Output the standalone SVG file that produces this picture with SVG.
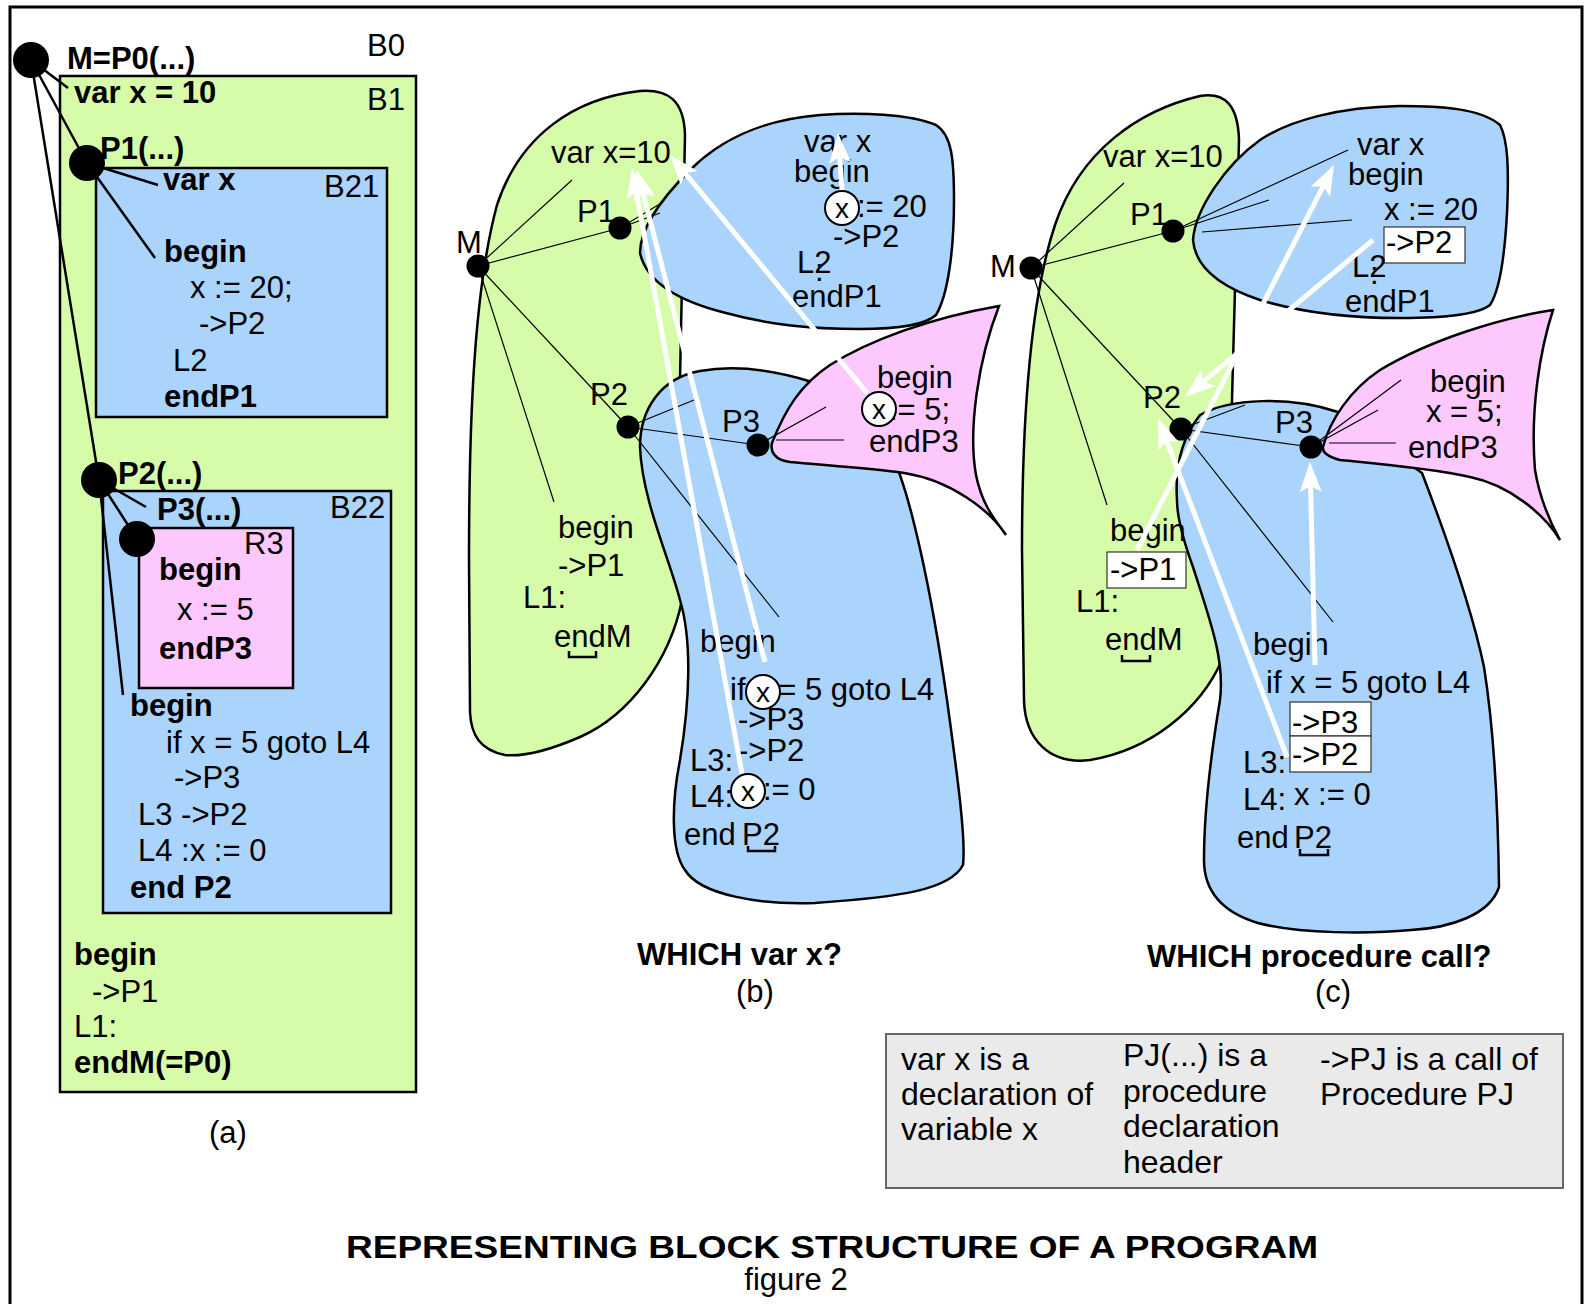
<svg xmlns="http://www.w3.org/2000/svg" width="1591" height="1304" viewBox="0 0 1591 1304">
<defs>
<style>
text{font-family:"Liberation Sans",Arial,sans-serif;font-size:31px;fill:#000}
.b{font-weight:bold}
.g{fill:#d6fcaa;stroke:#000;stroke-width:2.5}
.bl{fill:#aad4fc;stroke:#000;stroke-width:2.5}
.pk{fill:#fdc8fd;stroke:#000;stroke-width:2.5}
.thk{stroke:#000;stroke-width:2.5;fill:none}
.thn{stroke:#000;stroke-width:1.2;fill:none}
.wa{stroke:#fff;stroke-width:5;fill:none;marker-end:url(#wah)}
.box{fill:#fff;stroke:#333;stroke-width:1.2}
.cx{fill:#fff;stroke:#000;stroke-width:2}
.cxt{font-size:28px;text-anchor:middle}
.lg{font-size:32px}
</style>
<marker id="wah" markerUnits="userSpaceOnUse" markerWidth="30" markerHeight="22" refX="10" refY="11" orient="auto" overflow="visible">
<path d="M0,0 L30,11 L0,22 L6,11 Z" fill="#fff"/>
</marker>
</defs>
<rect width="1591" height="1304" fill="#fff"/>
<rect x="10" y="7" width="1572" height="1330" fill="none" stroke="#000" stroke-width="3"/>

<!-- Panel (a) -->
<g id="a-B1">
<rect class="g" x="60" y="76" width="356" height="1016"/>
<text x="367" y="56">B0</text>
<text x="367" y="110">B1</text>
<text class="b" x="67" y="69">M=P0(...)</text>
<text class="b" x="74" y="103">var x = 10</text>
<text class="b" x="74" y="965">begin</text>
<text x="92" y="1002">-&gt;P1</text>
<text x="74" y="1037">L1:</text>
<text class="b" x="74" y="1073">endM(=P0)</text>
</g>
<g id="a-B21">
<rect class="bl" x="96" y="168" width="291" height="249"/>
<text class="b" x="100" y="159">P1(...)</text>
<text class="b" x="163" y="190">var x</text>
<text x="324" y="197">B21</text>
<text class="b" x="164" y="262">begin</text>
<text x="190" y="298">x := 20;</text>
<text x="199" y="334">-&gt;P2</text>
<text x="173" y="371">L2</text>
<text class="b" x="164" y="407">endP1</text>
</g>
<g id="a-B22">
<rect class="bl" x="103" y="491" width="288" height="422"/>
<text class="b" x="118" y="484">P2(...)</text>
<text x="330" y="518">B22</text>
<text class="b" x="157" y="520">P3(...)</text>
<text class="b" x="130" y="716">begin</text>
<text x="166" y="753">if x = 5 goto L4</text>
<text x="174" y="788">-&gt;P3</text>
<text x="138" y="825">L3 -&gt;P2</text>
<text x="138" y="861">L4 :x := 0</text>
<text class="b" x="130" y="898">end P2</text>
</g>
<g id="a-R3">
<rect class="pk" x="139" y="528" width="154" height="160"/>
<text x="244" y="554">R3</text>
<text class="b" x="159" y="580">begin</text>
<text x="177" y="620">x := 5</text>
<text class="b" x="159" y="659">endP3</text>
</g>
<g id="a-connectors">
<line class="thk" x1="31" y1="60" x2="68" y2="88"/>
<line class="thk" x1="31" y1="60" x2="87" y2="163"/>
<line class="thk" x1="31" y1="60" x2="99" y2="480"/>
<line class="thk" x1="87" y1="163" x2="158" y2="185"/>
<line class="thk" x1="87" y1="163" x2="155" y2="258"/>
<line class="thk" x1="99" y1="480" x2="146" y2="507"/>
<line class="thk" x1="99" y1="480" x2="137" y2="539"/>
<line class="thk" x1="99" y1="480" x2="123" y2="695"/>
</g>
<g id="a-dots">
<circle cx="31" cy="60" r="18"/>
<circle cx="87" cy="163" r="18"/>
<circle cx="99" cy="480" r="18"/>
<circle cx="137" cy="539" r="18"/>
</g>
<text x="209" y="1143">(a)</text>

<!-- Panel (b) -->
<g id="b-M">
<path class="g" d="M470,712 L469,560 C469,420 474,290 497,205 C520,135 575,98 640,91 C668,89 684,100 685,135 L680,380 L682,600 C670,660 630,715 580,737 C550,750 525,757 505,755 C480,750 471,735 470,712 Z"/>
</g>
<g id="b-P1">
<path class="bl" d="M640,253 C645,275 665,298 726,313 C770,325 810,329 860,329 C900,329 925,325 936,315 C948,295 954,250 954,200 C954,160 952,135 936,125 C910,114 860,112 820,115 C760,120 720,140 690,170 C660,200 640,230 640,253 Z"/>
</g>
<g id="b-P2">
<path class="bl" d="M640,447 C640,410 660,378 700,371 C740,364 780,372 812,382 L897,467 C910,500 930,580 947,700 C958,780 966,840 963,865 C950,890 900,897 815,903 C760,905 700,895 685,870 C670,850 672,800 680,760 C690,700 692,640 680,600 C670,560 642,500 640,447 Z"/>
</g>
<g id="b-P3">
<path class="pk" d="M772,443 C785,410 800,385 830,365 C870,340 930,318 999,306 C978,360 968,430 976,475 C982,505 995,520 1006,535 C990,510 950,480 904,473 C870,468 820,465 790,462 C775,460 770,452 772,443 Z"/>
</g>
<g id="b-connectors">
<line class="thn" x1="478" y1="266" x2="572" y2="180"/>
<line class="thn" x1="478" y1="266" x2="620" y2="228"/>
<line class="thn" x1="478" y1="266" x2="628" y2="427"/>
<line class="thn" x1="478" y1="266" x2="554" y2="502"/>
<line class="thn" x1="620" y1="228" x2="663" y2="202"/>
<line class="thn" x1="620" y1="228" x2="660" y2="213"/>
<line class="thn" x1="628" y1="427" x2="694" y2="400"/>
<line class="thn" x1="628" y1="427" x2="758" y2="445"/>
<line class="thn" x1="628" y1="427" x2="779" y2="617"/>
<line class="thn" x1="758" y1="445" x2="826" y2="407"/>
<line class="thn" x1="776" y1="440" x2="844" y2="440"/>
</g>
<g id="b-dots">
<circle cx="478" cy="266" r="11.5"/>
<circle cx="620" cy="228" r="11.5"/>
<circle cx="628" cy="427" r="11.5"/>
<circle cx="758" cy="445" r="11.5"/>
</g>
<g id="b-text">
<text x="456" y="253">M</text>
<text x="551" y="163">var x=10</text>
<text x="577" y="222">P1</text>
<text x="590" y="405">P2</text>
<text x="722" y="432">P3</text>
<text x="558" y="538">begin</text>
<text x="558" y="576">-&gt;P1</text>
<text x="523" y="608">L1:</text>
<text x="554" y="647">endM</text>
<path class="thk" d="M569,651 V657 H596 V651" stroke-width="2"/>
<text x="804" y="152">var x</text>
<text x="794" y="182">begin</text>
<text x="857" y="217">:= 20</text>
<text x="833" y="247">-&gt;P2</text>
<text x="797" y="273">L2</text>
<text x="815" y="281">:</text>
<text x="792" y="307">endP1</text>
<text x="877" y="388">begin</text>
<text x="889" y="420">:= 5;</text>
<text x="869" y="452">endP3</text>
<text x="700" y="652">begin</text>
<text x="730" y="700">if x = 5 goto L4</text>
<text x="738" y="730">-&gt;P3</text>
<text x="690" y="771">L3:</text>
<text x="738" y="761">-&gt;P2</text>
<text x="690" y="807">L4:</text>
<text x="763" y="800">:= 0</text>
<text x="684" y="845">end</text>
<text x="742" y="845">P2</text>
<path class="thk" d="M748,846 V851 H775 V846" stroke-width="2"/>
</g>
<g id="b-arrows">
<line class="wa" x1="742" y1="774" x2="635.6" y2="187.7"/>
<line class="wa" x1="765" y1="662" x2="642" y2="189.4"/>
<line class="wa" x1="867" y1="393" x2="682.8" y2="170.4"/>
<line class="wa" x1="842" y1="190" x2="839.4" y2="153"/>
</g>
<g id="b-circles">
<circle class="cx" cx="842" cy="208" r="17"/><text class="cxt" x="842" y="218">x</text>
<circle class="cx" cx="879" cy="409" r="17"/><text class="cxt" x="879" y="419">x</text>
<circle class="cx" cx="763" cy="692" r="17"/><text class="cxt" x="763" y="702">x</text>
<circle class="cx" cx="748" cy="791" r="17"/><text class="cxt" x="748" y="801">x</text>
</g>
<text class="b" x="637" y="965">WHICH var x?</text>
<text x="736" y="1002">(b)</text>

<!-- Panel (c) -->
<g id="c-M">
<path class="g" d="M1024,700 L1022,550 C1022,420 1030,300 1055,225 C1080,150 1140,110 1200,96 C1225,92 1238,105 1239,140 L1232,400 L1222,660 C1200,710 1150,750 1090,760 C1050,765 1025,740 1024,700 Z"/>
</g>
<g id="c-P1">
<path class="bl" d="M1193,240 C1195,265 1215,285 1260,300 C1300,312 1350,318 1400,318 C1450,318 1480,313 1490,305 C1500,290 1505,250 1507,213 C1509,170 1508,140 1500,125 C1480,108 1440,106 1400,106 C1340,107 1290,120 1260,140 C1225,165 1195,210 1193,240 Z"/>
</g>
<g id="c-P2">
<path class="bl" d="M1177,500 C1175,470 1180,440 1200,415 C1230,398 1290,396 1338,412 L1422,473 C1440,520 1470,600 1484,667 C1494,730 1498,800 1499,887 C1490,915 1450,928 1411,930 C1370,934 1300,934 1258,923 C1215,910 1204,885 1204,860 C1204,820 1210,760 1220,700 C1225,660 1210,620 1193,567 C1185,545 1177,520 1177,500 Z"/>
</g>
<g id="c-P3">
<path class="pk" d="M1323,447 C1330,420 1350,390 1380,370 C1430,340 1500,318 1553,310 C1540,350 1530,410 1535,470 C1540,500 1550,522 1560,540 C1545,515 1510,485 1470,477 C1430,468 1370,463 1340,460 C1328,457 1322,452 1323,447 Z"/>
</g>
<g id="c-connectors">
<line class="thn" x1="1031" y1="268" x2="1124" y2="183"/>
<line class="thn" x1="1031" y1="268" x2="1173" y2="231"/>
<line class="thn" x1="1031" y1="268" x2="1181" y2="429"/>
<line class="thn" x1="1031" y1="268" x2="1107" y2="505"/>
<line class="thn" x1="1173" y1="231" x2="1348" y2="150"/>
<line class="thn" x1="1173" y1="231" x2="1269" y2="200"/>
<line class="thn" x1="1202" y1="232" x2="1352" y2="220"/>
<line class="thn" x1="1181" y1="429" x2="1245" y2="405"/>
<line class="thn" x1="1181" y1="429" x2="1311" y2="447"/>
<line class="thn" x1="1181" y1="429" x2="1333" y2="622"/>
<line class="thn" x1="1311" y1="447" x2="1401" y2="380"/>
<line class="thn" x1="1311" y1="447" x2="1378" y2="410"/>
<line class="thn" x1="1329" y1="443" x2="1396" y2="443"/>
</g>
<g id="c-dots">
<circle cx="1031" cy="268" r="11.5"/>
<circle cx="1173" cy="231" r="11.5"/>
<circle cx="1181" cy="429" r="11.5"/>
<circle cx="1311" cy="447" r="11.5"/>
</g>
<g id="c-text">
<text x="990" y="277">M</text>
<text x="1103" y="167">var x=10</text>
<text x="1130" y="225">P1</text>
<text x="1143" y="408">P2</text>
<text x="1275" y="433">P3</text>
<text x="1110" y="541">begin</text>
<rect class="box" x="1107" y="552" width="79" height="36"/>
<text x="1110" y="580">-&gt;P1</text>
<text x="1076" y="612">L1:</text>
<text x="1105" y="650">endM</text>
<path class="thk" d="M1122,655 V661 H1150 V655" stroke-width="2"/>
<text x="1357" y="155">var x</text>
<text x="1348" y="185">begin</text>
<text x="1384" y="220">x := 20</text>
<rect class="box" x="1384" y="227" width="81" height="36"/>
<text x="1386" y="253">-&gt;P2</text>
<text x="1352" y="277">L2</text>
<text x="1370" y="284">:</text>
<text x="1345" y="312">endP1</text>
<text x="1430" y="392">begin</text>
<text x="1426" y="422">x = 5;</text>
<text x="1408" y="458">endP3</text>
<text x="1253" y="655">begin</text>
<text x="1266" y="693">if x = 5 goto L4</text>
<rect class="box" x="1290" y="702" width="81" height="34"/>
<text x="1292" y="733">-&gt;P3</text>
<rect class="box" x="1290" y="736" width="81" height="36"/>
<text x="1292" y="765">-&gt;P2</text>
<text x="1243" y="773">L3:</text>
<text x="1243" y="810">L4:</text>
<text x="1294" y="805">x := 0</text>
<text x="1237" y="848">end</text>
<text x="1294" y="848">P2</text>
<path class="thk" d="M1300,849 V855 H1328 V849" stroke-width="2"/>
</g>
<g id="c-arrows">
<line class="wa" x1="1137" y1="550" x2="1324.9" y2="182.8"/>
<line class="wa" x1="1373" y1="240" x2="1200.4" y2="384.2"/>
<line class="wa" x1="1287" y1="757" x2="1165.1" y2="436.7"/>
<line class="wa" x1="1315" y1="665" x2="1310.5" y2="482"/>
</g>
<text class="b" x="1147" y="967">WHICH procedure call?</text>
<text x="1315" y="1002">(c)</text>

<!-- Legend -->
<g id="legend">
<rect x="886" y="1034" width="677" height="154" fill="#eaeaea" stroke="#666" stroke-width="2"/>
<text class="lg" x="901" y="1070">var x is a</text>
<text class="lg" x="901" y="1105">declaration of</text>
<text class="lg" x="901" y="1140">variable x</text>
<text class="lg" x="1123" y="1066">PJ(...) is a</text>
<text class="lg" x="1123" y="1102">procedure</text>
<text class="lg" x="1123" y="1137">declaration</text>
<text class="lg" x="1123" y="1173">header</text>
<text class="lg" x="1320" y="1070">-&gt;PJ is a call of</text>
<text class="lg" x="1320" y="1105">Procedure PJ</text>
</g>

<text class="b" x="346" y="1258" font-size="38" textLength="972" lengthAdjust="spacingAndGlyphs">REPRESENTING BLOCK STRUCTURE OF A PROGRAM</text>
<text x="796" y="1290" text-anchor="middle">figure 2</text>
</svg>
